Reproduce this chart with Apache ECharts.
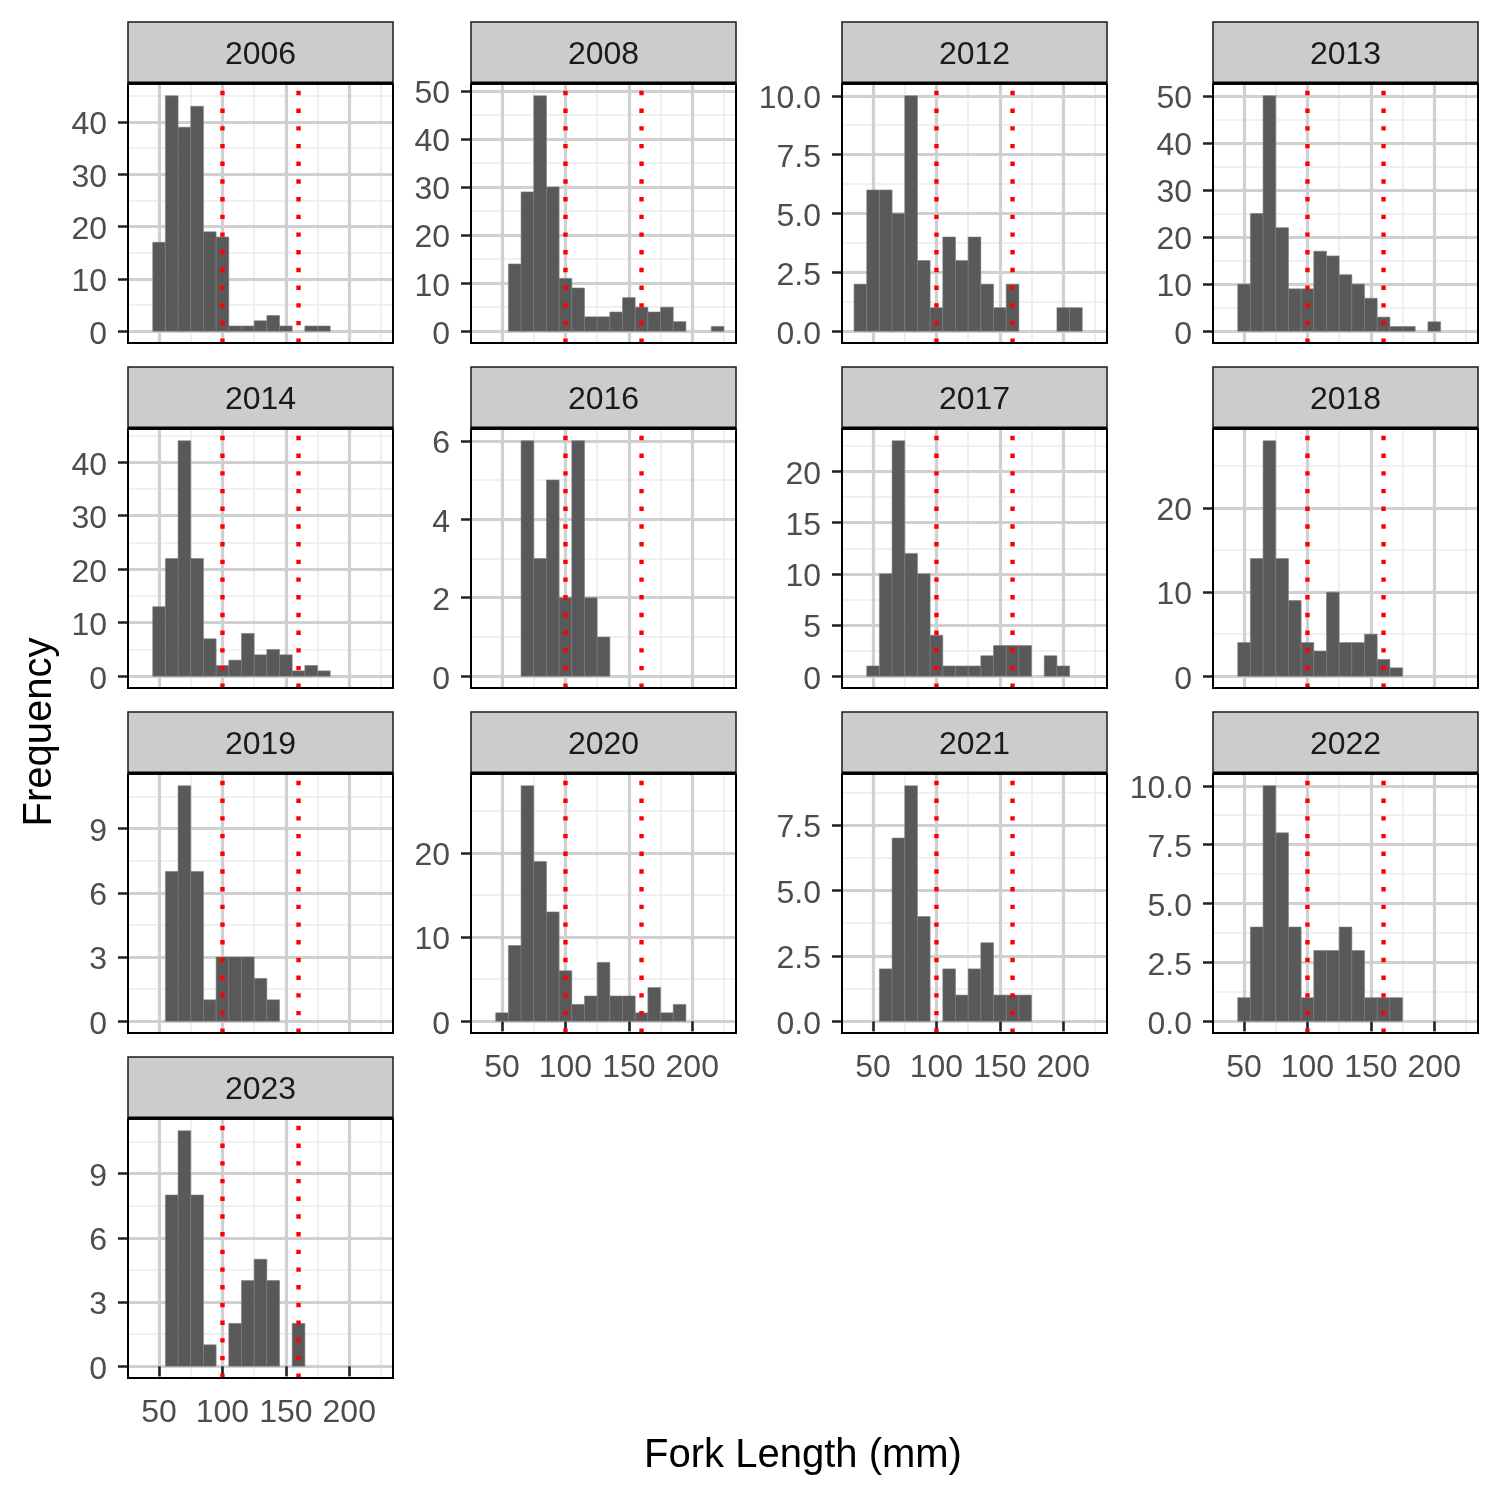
<!DOCTYPE html>
<html><head><meta charset="utf-8">
<script src="https://cdn.jsdelivr.net/npm/echarts@6/dist/echarts.min.js"></script>
<style>html,body{margin:0;padding:0;background:#fff}#chart{width:1500px;height:1500px}</style>
</head><body><div id="chart"></div>
<script>
// ---------------- data ----------------
const binCenters = [40,50,60,70,80,90,100,110,120,130,140,150,160,170,180,190,200,210,220];
const binWidth = 10;
const years = ['2006','2008','2012','2013','2014','2016','2017','2018','2019','2020','2021','2022','2023'];

const counts2006 = [0,17,45,39,43,19,18,1,1,2,3,1,0,1,1,0,0,0,0];
const counts2008 = [0,0,14,29,49,30,11,9,3,3,4,7,5,4,5,2,0,0,1];
const counts2012 = [2,6,6,5,10,3,1,4,3,4,2,1,2,0,0,0,1,1,0];
const counts2013 = [0,10,25,50,22,9,9,17,16,12,10,7,3,1,1,0,2,0,0];
const counts2014 = [0,13,22,44,22,7,2,3,8,4,5,4,1,2,1,0,0,0,0];
const counts2016 = [0,0,0,6,3,5,2,6,2,1,0,0,0,0,0,0,0,0,0];
const counts2017 = [0,1,10,23,12,10,4,1,1,1,2,3,3,3,0,2,1,0,0];
const counts2018 = [0,4,14,28,14,9,4,3,10,4,4,5,2,1,0,0,0,0,0];
const counts2019 = [0,0,7,11,7,1,3,3,3,2,1,0,0,0,0,0,0,0,0];
const counts2020 = [0,1,9,28,19,13,6,2,3,7,3,3,1,4,1,2,0,0,0];
const counts2021 = [0,0,2,7,9,4,0,2,1,2,3,1,1,1,0,0,0,0,0];
const counts2022 = [0,1,4,10,8,4,1,3,3,4,3,1,1,1,0,0,0,0,0];
const counts2023 = [0,0,8,11,8,1,0,2,4,5,4,0,2,0,0,0,0,0,0];

const yTicks2006 = [0,10,20,30,40];
const yTicks2008 = [0,10,20,30,40,50];
const yTicks2012 = [0,2.5,5,7.5,10];
const yTicks2013 = [0,10,20,30,40,50];
const yTicks2014 = [0,10,20,30,40];
const yTicks2016 = [0,2,4,6];
const yTicks2017 = [0,5,10,15,20];
const yTicks2018 = [0,10,20];
const yTicks2019 = [0,3,6,9];
const yTicks2020 = [0,10,20];
const yTicks2021 = [0,2.5,5,7.5];
const yTicks2022 = [0,2.5,5,7.5,10];
const yTicks2023 = [0,3,6,9];

const xTicks = [50,100,150,200];
const refLines = [100,160];
const xTitle = 'Fork Length (mm)';
const yTitle = 'Frequency';

const countsByYear = {'2006':counts2006,'2008':counts2008,'2012':counts2012,'2013':counts2013,'2014':counts2014,'2016':counts2016,'2017':counts2017,'2018':counts2018,'2019':counts2019,'2020':counts2020,'2021':counts2021,'2022':counts2022,'2023':counts2023};
const yTicksByYear = {'2006':yTicks2006,'2008':yTicks2008,'2012':yTicks2012,'2013':yTicks2013,'2014':yTicks2014,'2016':yTicks2016,'2017':yTicks2017,'2018':yTicks2018,'2019':yTicks2019,'2020':yTicks2020,'2021':yTicks2021,'2022':yTicks2022,'2023':yTicks2023};

// ---------------- layout / style ----------------
const FONT = '"Liberation Sans", Arial, Helvetica, sans-serif';
const colLeft = [128, 471, 842, 1213];
const panelW = 265;
const rowTop = [84, 429, 774, 1119];
const panelH = 259;
const stripH = 62;
const NCOL = 4;
const MAJOR = {color:'#d0d0d0', width:3.2};
const MINOR = {color:'#ebebeb', width:1.6};

// x range: data range of bins expanded by 5%
const xLo0 = binCenters[0] - binWidth/2, xHi0 = binCenters[binCenters.length-1] + binWidth/2;
const xMin = xLo0 - 0.05*(xHi0 - xLo0), xMax = xHi0 + 0.05*(xHi0 - xLo0);

function minorOf(ticks, lo, hi){
  const s = ticks[1]-ticks[0]; const out = [];
  for (let k = -1; ; k++) { const v = ticks[0] + s*k + s/2; if (v > hi) break; if (v >= lo) out.push(v); }
  return out;
}

function renderBar(params, api){
  const a = api.coord([api.value(0), api.value(2)]);
  const b = api.coord([api.value(1), 0]);
  return {type:'rect', shape:{x:a[0], y:a[1], width:b[0]-a[0], height:b[1]-a[1]},
          style:{fill:'#595959', stroke:'#7d7d7d', lineWidth:0.6}};
}
function renderVline(params, api){
  const cs = params.coordSys;
  const p = api.coord([api.value(0), 0]);
  return {type:'line', shape:{x1:p[0], y1:cs.y+cs.height, x2:p[0], y2:cs.y},
          style:{stroke:'#ff0000', lineWidth:4.4, lineDash:[4.4,13.3], lineCap:'butt'}};
}

const grids = [], xAxes = [], yAxes = [], series = [], graphics = [];
const n = years.length;
years.forEach((yr, i) => {
  const r = Math.floor(i/NCOL), c = i % NCOL;
  const left = colLeft[c], top = rowTop[r];
  const counts = countsByYear[yr];
  const ticks = yTicksByYear[yr];
  const m = Math.max(...counts);
  const yMin = -0.05*m, yMax = 1.05*m;
  const dec = ticks.some(v => !Number.isInteger(v));
  const showX = (i + NCOL >= n);

  grids.push({left:left, top:top, width:panelW, height:panelH, show:true,
              borderColor:'#000', borderWidth:2, backgroundColor:'transparent', z:5});

  xAxes.push({gridIndex:i, type:'value', min:xMin, max:xMax, z:1,
    axisLine:{show:false},
    axisTick:{show:showX, customValues:xTicks, length:10, lineStyle:{color:'#222', width:2.5}},
    axisLabel:{show:showX, customValues:xTicks, margin:19, fontSize:32, color:'#4d4d4d', fontFamily:FONT},
    splitLine:{show:true, lineStyle:MAJOR}});
  const xm = minorOf(xTicks, xMin, xMax);
  xAxes.push({gridIndex:i, type:'value', min:xMin, max:xMax, z:0,
    axisLine:{show:false},
    axisTick:{show:false, customValues:xm},
    axisLabel:{show:false, customValues:xm},
    splitLine:{show:true, lineStyle:MINOR}});
  yAxes.push({gridIndex:i, type:'value', min:yMin, max:yMax, z:1,
    axisLine:{show:false},
    axisTick:{show:true, customValues:ticks, length:10, lineStyle:{color:'#222', width:2.5}},
    axisLabel:{show:true, customValues:ticks, margin:21, fontSize:32, color:'#4d4d4d', fontFamily:FONT,
      verticalAlign:'top', lineHeight:7,
      formatter: v => dec ? Number(v).toFixed(1) : String(v)},
    splitLine:{show:true, lineStyle:MAJOR}});
  const ym = minorOf(ticks, yMin, yMax);
  yAxes.push({gridIndex:i, type:'value', min:yMin, max:yMax, z:0, position:'left',
    axisLine:{show:false},
    axisTick:{show:false, customValues:ym},
    axisLabel:{show:false, customValues:ym},
    splitLine:{show:true, lineStyle:MINOR}});

  const barData = [];
  counts.forEach((v, k) => { if (v > 0) barData.push([binCenters[k]-binWidth/2, binCenters[k]+binWidth/2, v]); });
  series.push({type:'custom', name:yr, xAxisIndex:2*i, yAxisIndex:2*i, z:2,
    renderItem:renderBar, encode:{x:[0,1], y:2}, data:barData, silent:true});
  series.push({type:'custom', name:yr+' ref', xAxisIndex:2*i, yAxisIndex:2*i, z:3,
    renderItem:renderVline, encode:{x:0, y:1}, data:refLines.map(v => [v, 0]), silent:true});

  graphics.push({type:'rect', z:6, shape:{x:left, y:top-stripH, width:panelW, height:stripH},
    style:{fill:'#cccccc', stroke:'#1a1a1a', lineWidth:1.5}});
  graphics.push({type:'line', z:6, shape:{x1:left, y1:top-1, x2:left+panelW, y2:top-1},
    style:{stroke:'#000', lineWidth:3}});
  graphics.push({type:'text', z:7, x:left+panelW/2, y:top-stripH/2+2,
    style:{text:yr, fill:'#1a1a1a', font:'32px ' + FONT, align:'center', verticalAlign:'middle'}});
});

graphics.push({type:'text', z:7, x:803, y:1456,
  style:{text:xTitle, fill:'#000', font:'40px ' + FONT, align:'center', verticalAlign:'middle'}});
graphics.push({type:'text', z:7, x:40, y:732, rotation:Math.PI/2,
  style:{text:yTitle, fill:'#000', font:'40px ' + FONT, align:'center', verticalAlign:'middle'}});

const chart = echarts.init(document.getElementById('chart'), null, {renderer:'canvas'});
chart.setOption({
  animation:false,
  backgroundColor:'#ffffff',
  grid:grids, xAxis:xAxes, yAxis:yAxes, series:series, graphic:graphics
});
</script>
</body></html>
